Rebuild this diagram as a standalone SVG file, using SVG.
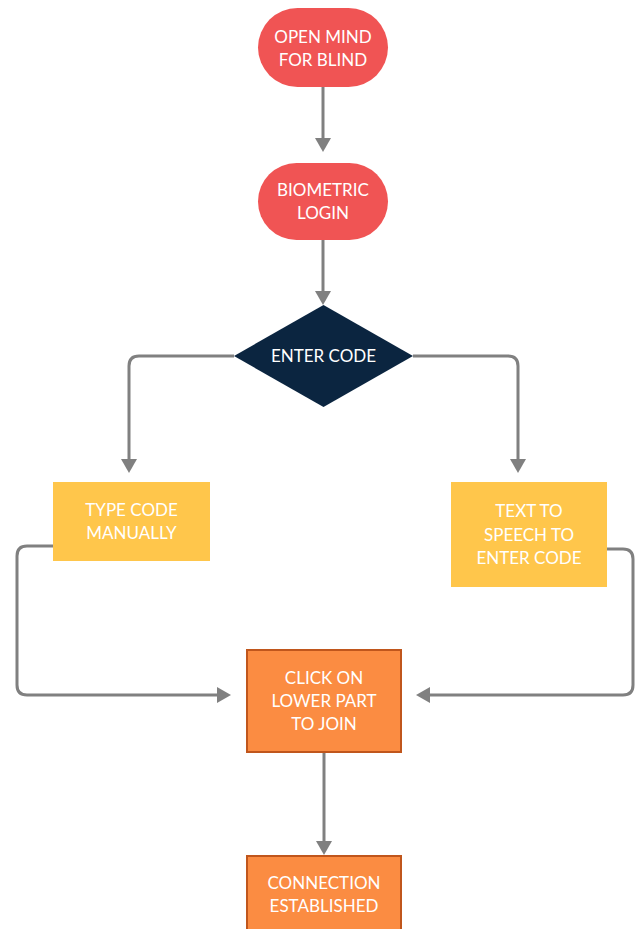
<svg xmlns="http://www.w3.org/2000/svg" width="638" height="929" viewBox="0 0 638 929">
<style>
text{font-family:Lato,"Open Sans","Liberation Sans",sans-serif;font-size:17px;fill:#ffffff;text-anchor:middle;dominant-baseline:central}
.red{fill:#F05454}
.navy{fill:#0B2540}
.yel{fill:#FFC64B}
.org{fill:#FB8C42;stroke:#C0561C;stroke-width:2}
.con{fill:none;stroke:#808080;stroke-width:3}
</style>
<defs>
<marker id="ah" viewBox="0 0 14 16" refX="4" refY="8" markerWidth="14" markerHeight="16" markerUnits="userSpaceOnUse" orient="auto">
<path d="M0,0 L14,8 L0,16 z" fill="#808080"/>
</marker>
</defs>
<g id="connectors">
<path class="con" marker-end="url(#ah)" d="M323,87 V142"/>
<path class="con" marker-end="url(#ah)" d="M323,240 V295"/>
<path class="con" marker-end="url(#ah)" d="M234,356 H139 Q129,356 129,366 V463"/>
<path class="con" marker-end="url(#ah)" d="M413,356 H508 Q518,356 518,366 V463"/>
<path class="con" marker-end="url(#ah)" d="M53,546 H27 Q17,546 17,556 V685 Q17,695 27,695 H221"/>
<path class="con" marker-end="url(#ah)" d="M607,549 H623 Q633,549 633,559 V685 Q633,695 623,695 H426"/>
<path class="con" marker-end="url(#ah)" d="M324,753 V845"/>
</g>
<g id="open-mind">
<rect class="red" x="258" y="8" width="130" height="79" rx="39.5"/>
<text x="323" y="36">OPEN MIND</text>
<text x="323" y="59">FOR BLIND</text>
</g>
<g id="biometric">
<rect class="red" x="258" y="163" width="130" height="77" rx="38.5"/>
<text x="323" y="189">BIOMETRIC</text>
<text x="323" y="212">LOGIN</text>
</g>
<g id="enter-code">
<polygon class="navy" points="323.5,305 413,356 323.5,407 234,356"/>
<text x="323.5" y="355">ENTER CODE</text>
</g>
<g id="type-code">
<rect class="yel" x="53" y="482" width="157" height="79"/>
<text x="131.5" y="509">TYPE CODE</text>
<text x="131.5" y="532">MANUALLY</text>
</g>
<g id="text-to-speech">
<rect class="yel" x="451" y="482" width="156" height="105"/>
<text x="529" y="510">TEXT TO</text>
<text x="529" y="534">SPEECH TO</text>
<text x="529" y="557">ENTER CODE</text>
</g>
<g id="click-lower">
<rect class="org" x="247" y="650" width="154" height="102"/>
<text x="324" y="677">CLICK ON</text>
<text x="324" y="700">LOWER PART</text>
<text x="324" y="723">TO JOIN</text>
</g>
<g id="connection">
<rect class="org" x="247" y="856" width="154" height="90"/>
<text x="324" y="882">CONNECTION</text>
<text x="324" y="905">ESTABLISHED</text>
</g>
</svg>
